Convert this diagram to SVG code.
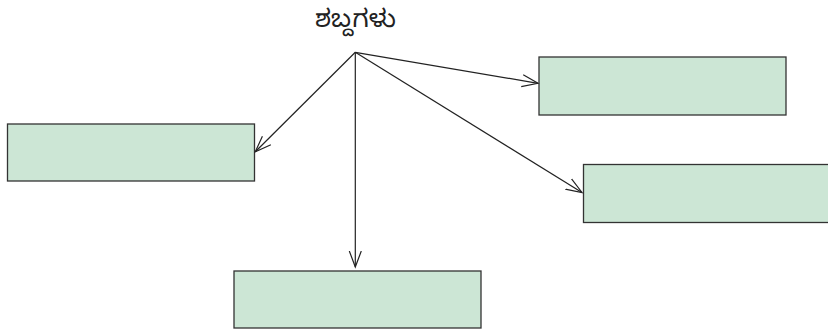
<svg xmlns="http://www.w3.org/2000/svg" width="828" height="333" viewBox="0 0 828 333">
<style>
.box{fill:#cce6d5;stroke:#333;stroke-width:1.3}
.conn{stroke:#222;stroke-width:1.2;fill:none}
.lbl{font-family:"Noto Sans Kannada","Noto Sans","DejaVu Sans",sans-serif;font-size:25px;fill:#222}
</style>
<defs>
<marker id="ah" markerUnits="userSpaceOnUse" markerWidth="20" markerHeight="16" refX="16" refY="6" orient="auto" viewBox="0 0 20 12">
<path d="M0,0 L16,6 L0,12" fill="none" stroke="#222" stroke-width="1.2"/>
</marker>
</defs>
<rect width="828" height="333" fill="#fff"/>
<g id="title"><text class="lbl" x="355.5" y="27" text-anchor="middle">ಶಬ್ದಗಳು</text></g>
<g id="node-left"><rect class="box" x="7.5" y="124" width="247" height="57"/></g>
<g id="node-topright"><rect class="box" x="539" y="57" width="247" height="58"/></g>
<g id="node-right"><rect class="box" x="583.5" y="164.5" width="247" height="58"/></g>
<g id="node-bottom"><rect class="box" x="234" y="271" width="247" height="57"/></g>
<g id="connectors">
<line class="conn" x1="355.3" y1="52.3" x2="538" y2="83.3" marker-end="url(#ah)"/>
<line class="conn" x1="355.3" y1="52.3" x2="255.3" y2="151.7" marker-end="url(#ah)"/>
<line class="conn" x1="355.3" y1="52.3" x2="582" y2="192.5" marker-end="url(#ah)"/>
<line class="conn" x1="355.3" y1="52.3" x2="355.3" y2="267" marker-end="url(#ah)"/>
</g>
</svg>
